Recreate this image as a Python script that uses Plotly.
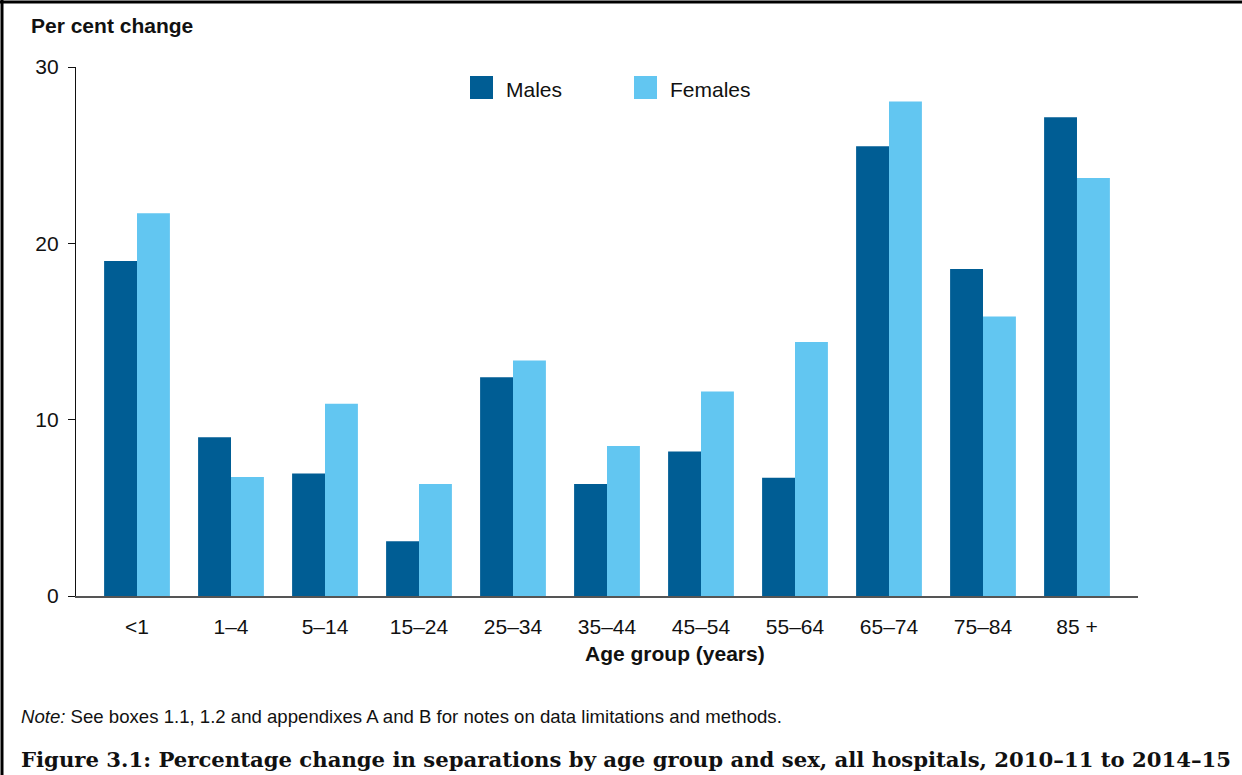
import plotly.graph_objects as go

categories = ["<1", "1–4", "5–14", "15–24", "25–34", "35–44", "45–54", "55–64", "65–74", "75–84", "85 +"]
males = [19.0, 9.0, 6.95, 3.1, 12.4, 6.35, 8.2, 6.7, 25.5, 18.55, 27.15]
females = [21.7, 6.75, 10.9, 6.35, 13.35, 8.5, 11.6, 14.4, 28.05, 15.85, 23.7]
y_ticks = [0, 10, 20, 30]

male_color = "#005D94"
female_color = "#62C6F1"
font_fam = "Liberation Sans, Arial, sans-serif"

W, H = 1242, 775
L, R, T, B = 76, 1138, 67, 596


def px(x):
    return (x - L) / (R - L)


def py(y):
    return (B - y) / (B - T)


fig = go.Figure()
fig.add_trace(go.Bar(x=categories, y=males, name="Males", marker_color=male_color,
                     marker_line_width=0, showlegend=False))
fig.add_trace(go.Bar(x=categories, y=females, name="Females", marker_color=female_color,
                     marker_line_width=0, showlegend=False))

shapes = [
    # legend squares
    dict(type="rect", xref="paper", yref="paper", x0=px(470), x1=px(493), y0=py(99), y1=py(76),
         fillcolor=male_color, line_width=0),
    dict(type="rect", xref="paper", yref="paper", x0=px(634), x1=px(657), y0=py(99), y1=py(76),
         fillcolor=female_color, line_width=0),
    # frame (top and left)
    dict(type="line", xref="paper", yref="paper", x0=px(0), x1=px(W + 5), y0=py(2), y1=py(2),
         line=dict(color="black", width=3)),
    dict(type="line", xref="paper", yref="paper", x0=px(2), x1=px(2), y0=py(0), y1=py(H + 5),
         line=dict(color="black", width=3)),
]

annotations = [
    dict(text="Males", xref="paper", yref="paper", x=px(504), y=py(90), xanchor="left", yanchor="middle",
         showarrow=False, font=dict(size=21, color="#111", family=font_fam)),
    dict(text="Females", xref="paper", yref="paper", x=px(668), y=py(90), xanchor="left", yanchor="middle",
         showarrow=False, font=dict(size=21, color="#111", family=font_fam)),
    dict(text="<b>Per cent change</b>", xref="paper", yref="paper", x=px(29), y=py(26), xanchor="left",
         yanchor="middle", showarrow=False, font=dict(size=21, color="#111", family=font_fam)),
    dict(text="<b>Age group (years)</b>", xref="paper", yref="paper", x=px(675), y=py(653), xanchor="center",
         yanchor="middle", showarrow=False, font=dict(size=21, color="#111", family=font_fam)),
    dict(text="<i>Note:</i> See boxes 1.1, 1.2 and appendixes A and B for notes on data limitations and methods.",
         xref="paper", yref="paper", x=px(19), y=py(716), xanchor="left", yanchor="middle",
         showarrow=False, font=dict(size=18.6, color="#111", family=font_fam)),
    dict(text="<b>Figure 3.1: Percentage change in separations by age group and sex, all hospitals, 2010–11 to 2014–15</b>",
         xref="paper", yref="paper", x=px(19), y=py(759), xanchor="left", yanchor="middle",
         showarrow=False, font=dict(size=21.2, color="#111", family="DejaVu Serif, Liberation Serif, serif")),
]

fig.update_layout(
    width=W, height=H,
    margin=dict(l=L, r=W - R, t=T, b=H - B, pad=0),
    paper_bgcolor="white", plot_bgcolor="white",
    barmode="group", bargap=0.3, bargroupgap=0,
    font=dict(family=font_fam, size=21, color="#111"),
    shapes=shapes, annotations=annotations,
    showlegend=False,
)
fig.update_xaxes(
    range=[-0.649, 10.649], showline=True, linecolor="#555", linewidth=1.5,
    ticks="", showgrid=False, zeroline=False, ticklabelstandoff=11,
    tickfont=dict(size=21, color="#111"),
)
fig.update_yaxes(
    range=[0, 30], tickvals=y_ticks, showline=True, linecolor="#111", linewidth=1.2,
    ticks="outside", ticklen=7, tickcolor="#111", tickwidth=1, showgrid=False, zeroline=False,
    ticklabelstandoff=5, tickfont=dict(size=21, color="#111"),
)

fig.write_html(
    "out.html",
    config={"displayModeBar": False},
    post_script="document.body.style.margin='0';document.body.style.overflow='hidden';",
)
